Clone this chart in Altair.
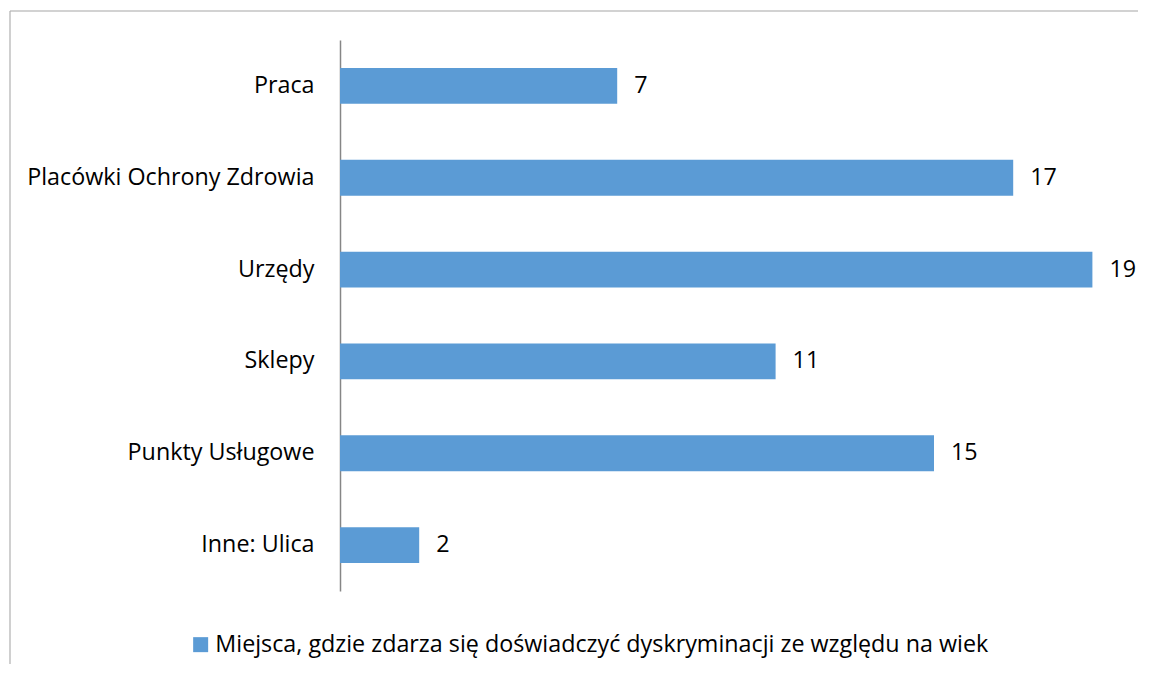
import altair as alt
import pandas as pd

categories = ["Praca", "Placówki Ochrony Zdrowia", "Urzędy", "Sklepy", "Punkty Usługowe", "Inne: Ulica"]
values = [7, 17, 19, 11, 15, 2]
series_name = "Miejsca, gdzie zdarza się doświadczyć dyskryminacji ze względu na wiek"

df = pd.DataFrame({"kategoria": categories, "wartosc": values, "seria": [series_name] * len(categories)})

FONT = "Open Sans"
FS = 23.3

y_enc = alt.Y("kategoria:N", sort=categories, title=None,
              scale=alt.Scale(paddingInner=0.61, paddingOuter=0.305),
              axis=alt.Axis(domainColor="#868686", domainWidth=1.5, ticks=False,
                            labelPadding=26, labelFontSize=FS, labelFont=FONT,
                            labelColor="#000000", grid=False, labelLimit=400))
x_enc = alt.X("wartosc:Q", scale=alt.Scale(domain=[0, 20]), axis=None)

bars = alt.Chart(df).mark_bar(color="#5B9BD5").encode(
    y=y_enc, x=x_enc,
    color=alt.Color("seria:N", scale=alt.Scale(range=["#5B9BD5"]),
                    legend=alt.Legend(title=None, orient="none", legendX=-151, legendY=593,
                                      symbolType="square", symbolSize=225, symbolStrokeWidth=0,
                                      labelFontSize=FS, labelFont=FONT, labelColor="#000000",
                                      labelOffset=3, labelLimit=1000)),
)

labels = alt.Chart(df).mark_text(align="left", baseline="middle", dx=17, fontSize=FS,
                                 font=FONT, color="#000000").encode(
    y=alt.Y("kategoria:N", sort=categories), x=x_enc, text="wartosc:Q")

frame = pd.DataFrame({"a": [0]})
top_line = alt.Chart(frame).mark_rule(stroke="#A6A6A6", strokeWidth=1.2).encode(
    x=alt.value(-330), x2=alt.value(798), y=alt.value(-29))
left_line = alt.Chart(frame).mark_rule(stroke="#B0B0B0", strokeWidth=1.2).encode(
    x=alt.value(-330), y=alt.value(-29), y2=alt.value(624))

chart = alt.layer(top_line, left_line, bars, labels).properties(
    width=792, height=551,
    autosize=alt.AutoSizeParams(type="none"),
    padding={"left": 332, "top": 32, "right": 9, "bottom": 76},
).configure_view(stroke=None)

chart.save("out.html", embed_options={"renderer": "svg", "actions": False})
